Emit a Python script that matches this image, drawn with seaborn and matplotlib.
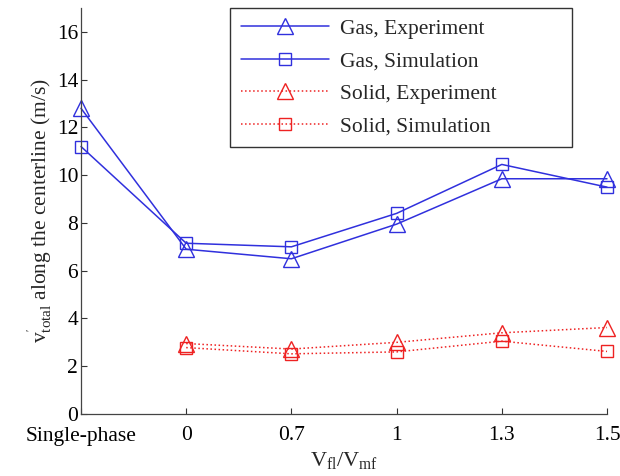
import numpy as np
import pandas as pd
import matplotlib
matplotlib.use("Agg")
import matplotlib.pyplot as plt
import seaborn as sns

categories = ["Single-phase", "0", "0.7", "1", "1.3", "1.5"]
gas_exp = [12.8, 6.9, 6.5, 7.95, 9.85, 9.85]
gas_sim = [11.2, 7.15, 7.0, 8.4, 10.45, 9.5]
solid_exp = [np.nan, 2.95, 2.72, 3.0, 3.4, 3.62]
solid_sim = [np.nan, 2.78, 2.52, 2.6, 3.05, 2.62]

sns.set_theme(style="ticks")
plt.rcParams['font.family'] = ['Liberation Serif', 'DejaVu Serif']
plt.rcParams['mathtext.fontset'] = 'custom'
plt.rcParams['mathtext.rm'] = 'Liberation Serif'
plt.rcParams['mathtext.it'] = 'Liberation Serif'

W, H = 620, 476
fig = plt.figure(figsize=(W/100, H/100), dpi=100)
x0, x1, y0, y1 = 81, 607, 8, 414
ax = fig.add_axes([x0/W, (H-y1)/H, (x1-x0)/W, (y1-y0)/H])

pos = np.arange(len(categories))
series = [
    ("Gas, Experiment", gas_exp, "#3030dd", "-", "^"),
    ("Gas, Simulation", gas_sim, "#3030dd", "-", "s"),
    ("Solid, Experiment", solid_exp, "#ee2222", ":", "^"),
    ("Solid, Simulation", solid_sim, "#ee2222", ":", "s"),
]
for name, vals, col, ls, mk in series:
    df = pd.DataFrame({"x": pos, "y": vals}).dropna()
    sns.lineplot(data=df, x="x", y="y", ax=ax, color=col, linestyle=ls,
                 marker=mk, markersize=12 if mk == "^" else 9,
                 markerfacecolor="none", markeredgecolor=col,
                 markeredgewidth=1.0, linewidth=1.1, label=name,
                 clip_on=False)

ax.set_xlim(0, 5)
ax.set_ylim(0, 17)
ax.set_yticks(np.arange(0, 17, 2))
ax.set_xticks(pos)
ax.set_xticklabels(categories)
ax.tick_params(direction="in", labelsize=15.5, length=4, width=0.8, colors="#333333", labelcolor="black")
ax.tick_params(axis="x", pad=9)
ax.tick_params(axis="y", pad=2)
for s in ["top", "right"]:
    ax.spines[s].set_visible(False)
for s in ["left", "bottom"]:
    ax.spines[s].set_linewidth(0.9)
    ax.spines[s].set_color("#444444")

ax.set_xlabel(r"$\mathregular{V_{fl}/V_{mf}}$", fontsize=16, labelpad=3)
ax.set_ylabel(r"$\mathregular{v_{total}^{'}}$ along the centerline (m/s)", fontsize=15.5, labelpad=2)

lx0, lx1, ly0, ly1 = 230, 572, 8, 143
bb = ((lx0-x0)/(x1-x0), 1 - (ly1-y0)/(y1-y0), (lx1-lx0)/(x1-x0), (ly1-ly0)/(y1-y0))
leg = ax.legend(loc="upper left", bbox_to_anchor=bb, mode="expand", borderaxespad=0,
                fontsize=15.5, frameon=True, fancybox=False, edgecolor="black",
                handlelength=4.1, borderpad=0.5, labelspacing=0.58, handletextpad=0.5)
leg.get_frame().set_linewidth(1.0)

fig.savefig("out.png", dpi=100)
